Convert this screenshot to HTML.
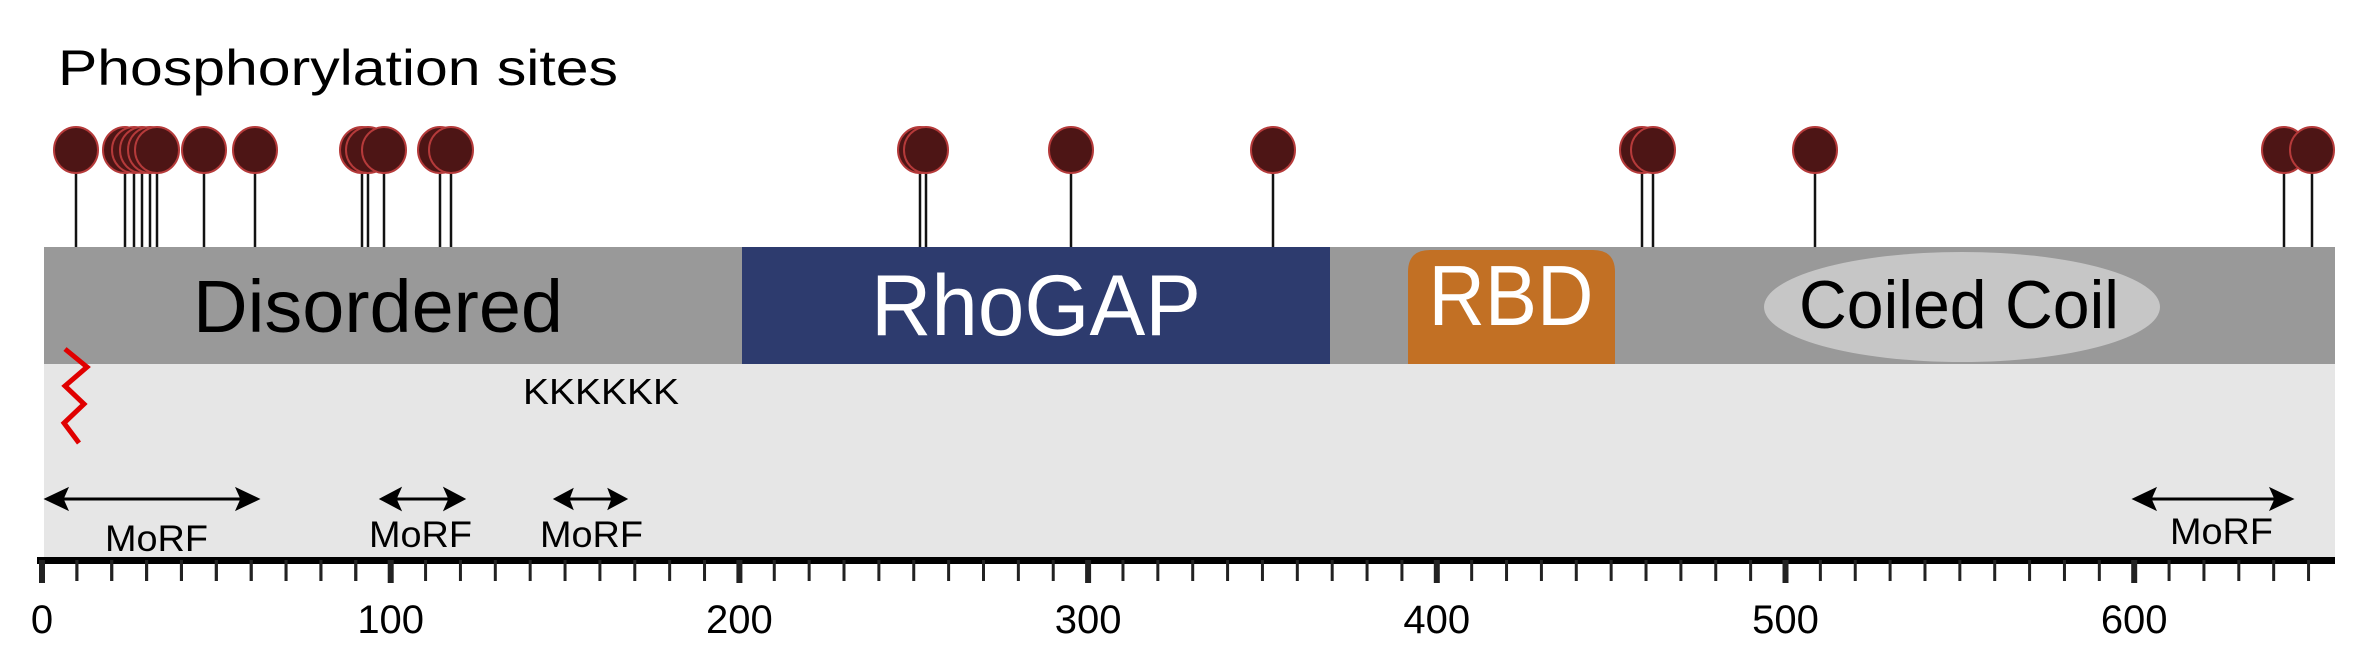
<!DOCTYPE html>
<html><head><meta charset="utf-8"><style>
html,body{margin:0;padding:0;background:#fff;}
svg{display:block;font-family:"Liberation Sans",Arial,sans-serif;}
</style></head><body>
<svg width="2375" height="666" viewBox="0 0 2375 666" xmlns="http://www.w3.org/2000/svg">
<rect width="2375" height="666" fill="#fff"/>
<text x="58" y="85" font-size="50" textLength="560" lengthAdjust="spacingAndGlyphs" fill="#000">Phosphorylation sites</text>
<!-- light region -->
<rect x="44" y="364" width="2291" height="193" fill="#e6e6e6"/>
<!-- bar -->
<rect x="44" y="247" width="2291" height="117" fill="#999999"/>
<rect x="742" y="247" width="588" height="117" fill="#2d3b6e"/>
<text x="1036" y="335" font-size="86" fill="#fff" text-anchor="middle" textLength="330" lengthAdjust="spacingAndGlyphs">RhoGAP</text>
<path d="M1430,250 H1593 Q1615,250 1615,272 V364 H1408 V272 Q1408,250 1430,250 Z" fill="#c27024"/>
<text x="1511" y="325" font-size="85" fill="#fff" text-anchor="middle" textLength="165" lengthAdjust="spacingAndGlyphs">RBD</text>
<ellipse cx="1962" cy="307" rx="198" ry="55" fill="#c6c6c6"/>
<text x="1959" y="328" font-size="68" fill="#000" text-anchor="middle" textLength="320" lengthAdjust="spacingAndGlyphs">Coiled Coil</text>
<text x="378" y="332" font-size="74" fill="#000" text-anchor="middle" textLength="370" lengthAdjust="spacingAndGlyphs">Disordered</text>
<text x="523" y="404" font-size="36" fill="#000" textLength="156" lengthAdjust="spacingAndGlyphs">KKKKKK</text>
<polyline points="65,349 87,367 65,386 84,404 64,423 79,443" fill="none" stroke="#e00000" stroke-width="5"/>
<!-- lollipops -->
<g stroke="#111" stroke-width="2.5">
<line x1="76" y1="160" x2="76" y2="247"/><line x1="125" y1="160" x2="125" y2="247"/><line x1="134" y1="160" x2="134" y2="247"/><line x1="142" y1="160" x2="142" y2="247"/><line x1="150" y1="160" x2="150" y2="247"/><line x1="157" y1="160" x2="157" y2="247"/><line x1="204" y1="160" x2="204" y2="247"/><line x1="255" y1="160" x2="255" y2="247"/><line x1="362" y1="160" x2="362" y2="247"/><line x1="368" y1="160" x2="368" y2="247"/><line x1="384" y1="160" x2="384" y2="247"/><line x1="440" y1="160" x2="440" y2="247"/><line x1="451" y1="160" x2="451" y2="247"/><line x1="920" y1="160" x2="920" y2="247"/><line x1="926" y1="160" x2="926" y2="247"/><line x1="1071" y1="160" x2="1071" y2="247"/><line x1="1273" y1="160" x2="1273" y2="247"/><line x1="1642" y1="160" x2="1642" y2="247"/><line x1="1653" y1="160" x2="1653" y2="247"/><line x1="1815" y1="160" x2="1815" y2="247"/><line x1="2284" y1="160" x2="2284" y2="247"/><line x1="2312" y1="160" x2="2312" y2="247"/>
</g>
<g fill="#4d1515" stroke="#b53a3a" stroke-width="2">
<ellipse cx="76" cy="150" rx="22" ry="23"/><ellipse cx="125" cy="150" rx="22" ry="23"/><ellipse cx="134" cy="150" rx="22" ry="23"/><ellipse cx="142" cy="150" rx="22" ry="23"/><ellipse cx="150" cy="150" rx="22" ry="23"/><ellipse cx="157" cy="150" rx="22" ry="23"/><ellipse cx="204" cy="150" rx="22" ry="23"/><ellipse cx="255" cy="150" rx="22" ry="23"/><ellipse cx="362" cy="150" rx="22" ry="23"/><ellipse cx="368" cy="150" rx="22" ry="23"/><ellipse cx="384" cy="150" rx="22" ry="23"/><ellipse cx="440" cy="150" rx="22" ry="23"/><ellipse cx="451" cy="150" rx="22" ry="23"/><ellipse cx="920" cy="150" rx="22" ry="23"/><ellipse cx="926" cy="150" rx="22" ry="23"/><ellipse cx="1071" cy="150" rx="22" ry="23"/><ellipse cx="1273" cy="150" rx="22" ry="23"/><ellipse cx="1642" cy="150" rx="22" ry="23"/><ellipse cx="1653" cy="150" rx="22" ry="23"/><ellipse cx="1815" cy="150" rx="22" ry="23"/><ellipse cx="2284" cy="150" rx="22" ry="23"/><ellipse cx="2312" cy="150" rx="22" ry="23"/>
</g>
<!-- MoRF arrows -->
<g stroke="#000" stroke-width="3" fill="#000">
<line x1="52" y1="499" x2="252" y2="499"/><polygon points="47,499 66,490 62,499 66,508"/><polygon points="257,499 238,490 242,499 238,508"/>
<line x1="386" y1="499" x2="459" y2="499"/><polygon points="382,499 399,490 395,499 399,508"/><polygon points="463,499 446,490 450,499 446,508"/>
<line x1="560" y1="499" x2="621" y2="499"/><polygon points="556,499 571,491 568,499 571,507"/><polygon points="625,499 610,491 613,499 610,507"/>
<line x1="2140" y1="499" x2="2286" y2="499"/><polygon points="2135,499 2154,490 2150,499 2154,508"/><polygon points="2291,499 2272,490 2276,499 2272,508"/>
</g>
<g font-size="37" fill="#000">
<text x="105" y="551" textLength="103" lengthAdjust="spacingAndGlyphs">MoRF</text>
<text x="369" y="547" textLength="103" lengthAdjust="spacingAndGlyphs">MoRF</text>
<text x="540" y="547" textLength="103" lengthAdjust="spacingAndGlyphs">MoRF</text>
<text x="2170" y="544" textLength="103" lengthAdjust="spacingAndGlyphs">MoRF</text>
</g>
<!-- axis -->
<rect x="37" y="557" width="2298" height="7" fill="#000"/>
<g stroke="#222" stroke-width="3">
<line x1="76.9" y1="560" x2="76.9" y2="581"/><line x1="111.7" y1="560" x2="111.7" y2="581"/><line x1="146.6" y1="560" x2="146.6" y2="581"/><line x1="181.4" y1="560" x2="181.4" y2="581"/><line x1="216.3" y1="560" x2="216.3" y2="581"/><line x1="251.2" y1="560" x2="251.2" y2="581"/><line x1="286" y1="560" x2="286" y2="581"/><line x1="320.9" y1="560" x2="320.9" y2="581"/><line x1="355.7" y1="560" x2="355.7" y2="581"/>
</g>
<g id="ticks" stroke="#222" stroke-width="3"></g>
<g font-size="40" fill="#000" text-anchor="middle" id="labels"></g>
<script>
(function(){
var ns="http://www.w3.org/2000/svg",g=document.getElementById("ticks"),L=document.getElementById("labels");
g.innerHTML="";
for(var a=0;a<=650;a+=10){var x=42+3.487*a;var l=document.createElementNS(ns,"line");var maj=a%100==0;
l.setAttribute("x1",x);l.setAttribute("x2",x);l.setAttribute("y1",560);l.setAttribute("y2",maj?583:581);l.setAttribute("stroke-width",maj?6:3);g.appendChild(l);
if(maj){var t=document.createElementNS(ns,"text");t.setAttribute("x",x);t.setAttribute("y",633);t.textContent=a;L.appendChild(t);}}
})();
</script>
</svg>
</body></html>
